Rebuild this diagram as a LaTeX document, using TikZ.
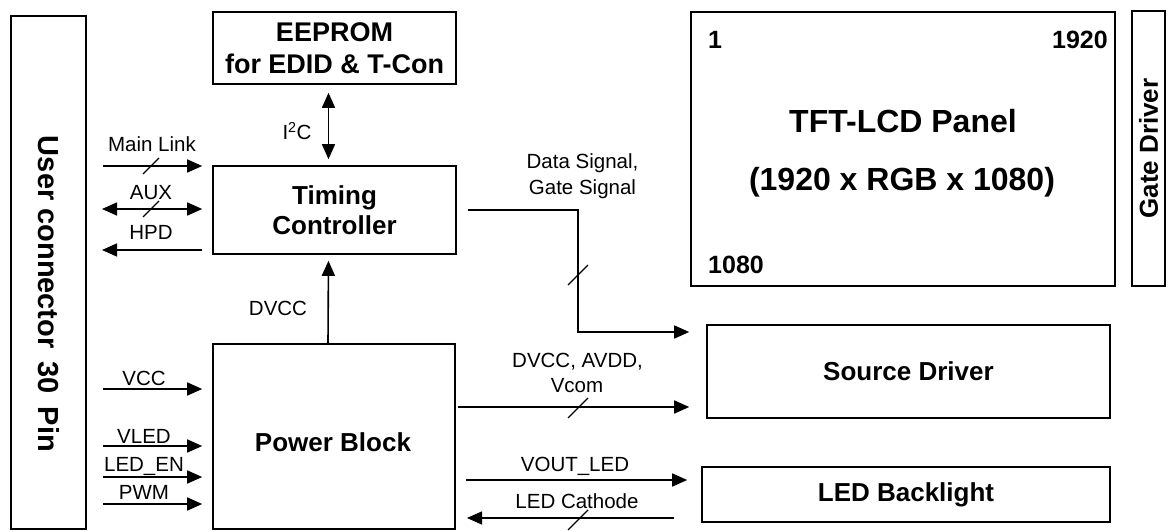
\documentclass[tikz,border=0pt]{standalone}
\usepackage{fontspec}
\setmainfont{Liberation Sans}
\usetikzlibrary{arrows.meta,calc}
\tikzset{
  blk/.style={draw,line width=1.6pt,inner sep=0pt,align=center,font=\fontsize{26}{30}\selectfont\bfseries},
  sig/.style={line width=1.6pt,-{Triangle[length=15pt,width=13pt]}},
  sigb/.style={line width=1.6pt,{Triangle[length=15pt,width=13pt]}-{Triangle[length=15pt,width=13pt]}},
  lbl/.style={font=\fontsize{20.5}{25}\selectfont,anchor=base,inner sep=0pt},
  busmark/.style={line width=1.2pt},
  numtxt/.style={font=\fontsize{25}{30}\selectfont\bfseries,inner sep=0pt},
}

\begin{document}
\begin{tikzpicture}[x=1pt,y=-1pt]
  \useasboundingbox (0,0) rectangle (1168,532);

  % user connector
  \node[draw,line width=1.6pt,inner sep=0pt,minimum width=75pt,minimum height=513pt] (usercon) at (48.5,272.5) {};
  \node[font=\fontsize{29}{34}\selectfont\bfseries,rotate=-90,inner sep=0pt] (usertxt) at (49,294) {User connector\hspace{13pt}30\hspace{13pt}Pin};

  % middle column
  \node[blk,minimum width=243pt,minimum height=72pt,font=\fontsize{27}{32}\selectfont\bfseries] (eeprom) at (334.5,48) {EEPROM\\for EDID \& T-Con};
  \node[blk,minimum width=243pt,minimum height=88pt] (tcon) at (334.5,210) {Timing\\Controller};
  \node[draw,line width=1.6pt,inner sep=0pt,minimum width=242pt,minimum height=185pt] (power) at (334,436.5) {};
  \node[blk,draw=none,anchor=base] (powertxt) at (333,451) {Power Block};

  % panel side
  \node[draw,line width=1.6pt,inner sep=0pt,minimum width=424pt,minimum height=274pt] (panel) at (903,149) {};
  \node[font=\fontsize{32}{38}\selectfont\bfseries,anchor=base,inner sep=0pt] (paneltitle) at (903,133) {TFT-LCD Panel};
  \node[font=\fontsize{32}{38}\selectfont\bfseries,anchor=base,inner sep=0pt] (panelres) at (902,190) {(1920 x RGB x 1080)};
  \node[numtxt,anchor=base west] (first) at (708,49) {1};
  \node[numtxt,anchor=base east] (cols) at (1108,49) {1920};
  \node[numtxt,anchor=base west] (rows) at (708,273) {1080};
  \node[blk,rotate=90,minimum width=275pt,minimum height=33pt] (gate) at (1148.5,148.5) {Gate Driver};
  \node[blk,minimum width=403pt,minimum height=93pt] (source) at (908.5,371.5) {Source Driver};
  \node[blk,minimum width=408pt,minimum height=55pt] (backlight) at (906,494.5) {LED Backlight};

  % connector to timing controller
  \coordinate (ml) at (103,166);
  \coordinate (aux) at (102,209);
  \coordinate (hpd) at (102,250);
  \draw[sig,shorten >=10pt] (ml) -- (ml -| tcon.west);
  \draw[sigb,shorten >=10pt] (aux) -- (aux -| tcon.west);
  \draw[sig,shorten <=10pt] (hpd -| tcon.west) -- (hpd);
  \node[lbl] at (152,152) {Main Link};
  \node[lbl] at (151,200) {AUX};
  \node[lbl] at (151,240) {HPD};
  \draw[busmark] (151,166) ++(-8,8) -- ++(16,-16);
  \draw[busmark] (151,209) ++(-8,8) -- ++(16,-16);

  % eeprom and power to timing controller
  \draw[sigb,shorten <=8pt,shorten >=6pt] ([xshift=-6pt]eeprom.south) -- ([xshift=-6pt]tcon.north);
  \node[lbl] at (297,140) {I\textsuperscript{2}C};
  \draw[sig,shorten >=6pt] ([xshift=-6pt]power.north) -- ([xshift=-6pt]tcon.south);
  \node[lbl] at (278,315) {DVCC};

  % connector to power block
  \foreach \y/\t/\b in {389/VCC/385,446/VLED/443,477/LED\_EN/471,504/PWM/499}{
    \coordinate (in) at (103,\y);
    \draw[sig,shorten >=10pt] (in) -- (in -| power.west);
    \node[lbl] at (144,\b) {\t};
  }

  % timing controller to source driver
  \coordinate (dsbend) at (578,332);
  \draw[sig,shorten <=11pt,shorten >=17pt] (tcon.east) -| (dsbend) -- (dsbend -| source.west);
  \node[lbl] at (582.5,169) {Data Signal,};
  \node[lbl] at (582.5,194) {Gate Signal};
  \draw[busmark] (578,275) ++(-10,10) -- ++(20,-20);

  % power block outputs
  \coordinate (avdd) at (458,407);
  \draw[sig,shorten >=17pt] (avdd) -- (avdd -| source.west);
  \node[lbl] at (577.5,367) {DVCC, AVDD,};
  \node[lbl] at (577,392) {Vcom};
  \draw[busmark] (578,408) ++(-10,10) -- ++(20,-20);

  \coordinate (vout) at (466,480);
  \draw[sig,shorten >=14pt] (vout) -- (vout -| backlight.west);
  \node[lbl] at (575,471) {VOUT\_LED};

  \coordinate (cath) at (467,518);
  \draw[sig,shorten <=27pt] (cath -| backlight.west) -- (cath);
  \node[lbl] at (577,508) {LED Cathode};
  \draw[busmark] (578,520) ++(-10,10) -- ++(20,-20);
\end{tikzpicture}
\end{document}
